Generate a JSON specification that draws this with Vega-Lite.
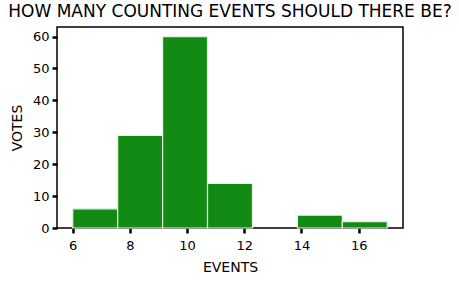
{
  "$schema": "https://vega.github.io/schema/vega-lite/v6.json",
  "autosize": {"type": "none"},
  "width": 346,
  "height": 201,
  "padding": {"left": 57, "top": 27, "right": 56, "bottom": 53},
  "background": "white",
  "title": {
    "text": "HOW MANY COUNTING EVENTS SHOULD THERE BE?",
    "font": "DejaVu Sans",
    "fontSize": 17,
    "fontWeight": "normal",
    "color": "black",
    "anchor": "middle",
    "offset": 6
  },
  "config": {
    "view": {"stroke": "black", "strokeWidth": 1.5},
    "axis": {
      "labelFont": "DejaVu Sans",
      "titleFont": "DejaVu Sans",
      "labelFontSize": 13,
      "titleFontSize": 14,
      "titleFontWeight": "normal",
      "labelColor": "black",
      "titleColor": "black",
      "tickColor": "black",
      "tickWidth": 2.5,
      "tickSize": 5,
      "domain": false,
      "grid": false
    }
  },
  "data": {
    "values": [
      {"bin_start": 6.0, "bin_end": 7.571, "votes": 6},
      {"bin_start": 7.571, "bin_end": 9.143, "votes": 29},
      {"bin_start": 9.143, "bin_end": 10.714, "votes": 60},
      {"bin_start": 10.714, "bin_end": 12.286, "votes": 14},
      {"bin_start": 12.286, "bin_end": 13.857, "votes": 0},
      {"bin_start": 13.857, "bin_end": 15.429, "votes": 4},
      {"bin_start": 15.429, "bin_end": 17.0, "votes": 2}
    ]
  },
  "transform": [{"filter": "datum.votes > 0"}],
  "mark": {"type": "rect", "fill": "#138a13", "stroke": "#e6f2e6", "strokeWidth": 1.2},
  "encoding": {
    "x": {
      "field": "bin_start",
      "type": "quantitative",
      "scale": {"domain": [5.45, 17.55], "nice": false, "zero": false},
      "axis": {"values": [6, 8, 10, 12, 14, 16], "title": "EVENTS", "labelPadding": 6, "titlePadding": 8}
    },
    "x2": {"field": "bin_end"},
    "y": {
      "field": "votes",
      "type": "quantitative",
      "scale": {"domain": [0, 63], "nice": false},
      "axis": {"values": [0, 10, 20, 30, 40, 50, 60], "title": "VOTES", "labelPadding": 3, "titlePadding": 8}
    },
    "y2": {"datum": 0}
  }
}
